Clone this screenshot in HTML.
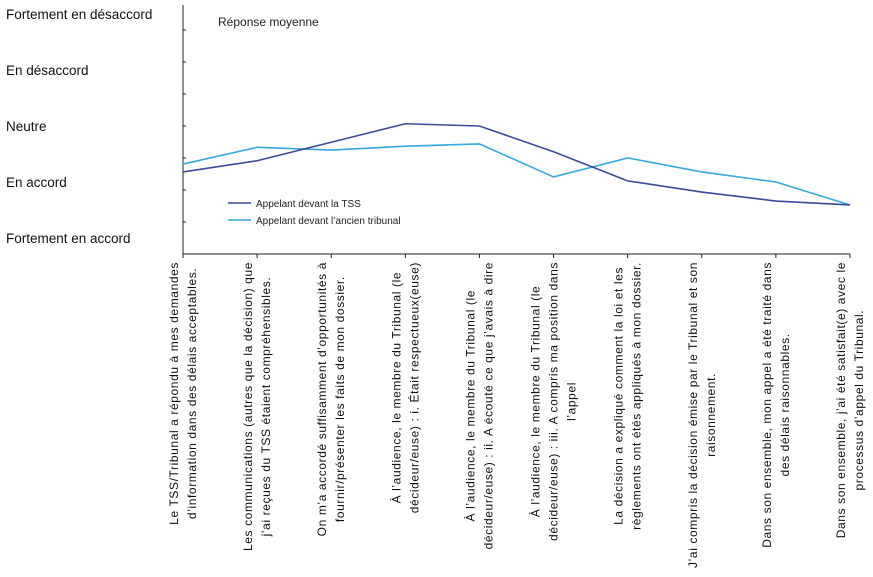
<!DOCTYPE html>
<html><head><meta charset="utf-8"><style>
html,body{margin:0;padding:0;background:#fff;}
svg{display:block;font-family:"Liberation Sans",sans-serif;}
</style></head><body>
<svg id="chart" width="873" height="577" viewBox="0 0 873 577">
<g id="ylabels"></g><g id="axes"></g><g id="series"></g><g id="xlabels"></g>
<text x="218" y="26" font-size="12" fill="#222">Réponse moyenne</text>
<g>
<line x1="228" y1="203" x2="251" y2="203" stroke="#3a4b9c" stroke-width="1.5"/>
<text x="256" y="207" font-size="10" fill="#222">Appelant devant la TSS</text>
<line x1="228" y1="220" x2="251" y2="220" stroke="#35a8e0" stroke-width="1.5"/>
<text x="256" y="224" font-size="10" fill="#222">Appelant devant l’ancien tribunal</text>
</g>
</svg>
<script>
const categories = [
 ["Le TSS/Tribunal a répondu à mes demandes","d’information dans des délais acceptables."],
 ["Les communications (autres que la décision) que","j’ai reçues du TSS étaient compréhensibles."],
 ["On m’a accordé suffisamment d’opportunités à","fournir/présenter les faits de mon dossier."],
 ["À l’audience, le membre du Tribunal (le","décideur/euse) : i. Était respectueux(euse)"],
 ["À l’audience, le membre du Tribunal (le","décideur/euse) : ii. A écouté ce que j’avais à dire"],
 ["À l’audience, le membre du Tribunal (le","décideur/euse) : iii. A compris ma position dans","l’appel"],
 ["La décision a expliqué comment la loi et les","règlements ont étés appliqués à mon dossier."],
 ["J’ai compris la décision émise par le Tribunal et son","raisonnement."],
 ["Dans son ensemble, mon appel a été traité dans","des délais raisonnables."],
 ["Dans son ensemble, j’ai été satisfait(e) avec le","processus d’appel du Tribunal."]
];
const tssValues = [2.18, 2.38, 2.71, 3.04, 3.0, 2.54, 2.02, 1.82, 1.66, 1.59];
const ancienValues = [2.32, 2.62, 2.57, 2.64, 2.68, 2.09, 2.43, 2.18, 2.0, 1.59];
const yTickLabels = ["Fortement en accord","En accord","Neutre","En désaccord","Fortement en désaccord"];
const yTickValues = [1, 2, 3, 4, 5];

const NS = "http://www.w3.org/2000/svg";
const X0 = 183, X1 = 850, AXY = 254;
function xPos(i){ return X0 + i*(X1-X0)/(categories.length-1); }
function yPos(v){ return 126 - (v-3)*56; }
function mk(tag, attrs, parent){ const e=document.createElementNS(NS,tag); for(const k in attrs) e.setAttribute(k,attrs[k]); parent.appendChild(e); return e; }

const yl = document.getElementById('ylabels');
yTickLabels.forEach((t,i)=>{
  const e = mk('text',{x:6,y:yPos(yTickValues[i])+5,'font-size':13.5,fill:'#111'},yl);
  
  
  e.textContent=t;
});

const ax = document.getElementById('axes');
const ya = mk('line',{x1:X0,y1:5,x2:X0,y2:AXY,stroke:'#222','stroke-width':1},ax);


const xa = mk('line',{x1:X0,y1:AXY,x2:X1,y2:AXY,stroke:'#222','stroke-width':1},ax);


for(let k=0;k<8;k++){
  const yy = AXY - k*32;
  const t = mk('line',{x1:X0,y1:yy,x2:X0+3,y2:yy,stroke:'#222'},ax);
  
  
}
categories.forEach((c,i)=>{
  const t = mk('line',{x1:xPos(i),y1:AXY,x2:xPos(i),y2:AXY+4,stroke:'#222'},ax);
  
  
});

const sg = document.getElementById('series');
function drawLine(vals,color,name){
  const p = mk('polyline',{points:vals.map((v,i)=>xPos(i)+','+yPos(v)).join(' '),fill:'none',stroke:color,'stroke-width':1.6},sg);
  
  
}
drawLine(ancienValues,'#35a8e0','series-ancien-tribunal');
drawLine(tssValues,'#3a4b9c','series-tss');

const xl = document.getElementById('xlabels');
categories.forEach((lines,i)=>{
  const g = mk('g',{},xl);
  
  
  const texts = lines.map(l=>{ const t=mk('text',{'font-size':12,fill:'#111','text-anchor':'middle','letter-spacing':0.6},g); t.textContent=l; return t; });
  let maxLen = 0; texts.forEach(t=>{ maxLen=Math.max(maxLen,t.getComputedTextLength()); });
  const cy = 262 + maxLen/2;
  const n = lines.length, pitch = 18;
  texts.forEach((t,j)=>{
    const cx = xPos(i) + (j-(n-1)/2)*pitch + 4;
    t.setAttribute('transform','translate('+cx+','+cy+') rotate(-90)');
    t.setAttribute('x',0); t.setAttribute('y',0);
  });
});
</script>
</body></html>
